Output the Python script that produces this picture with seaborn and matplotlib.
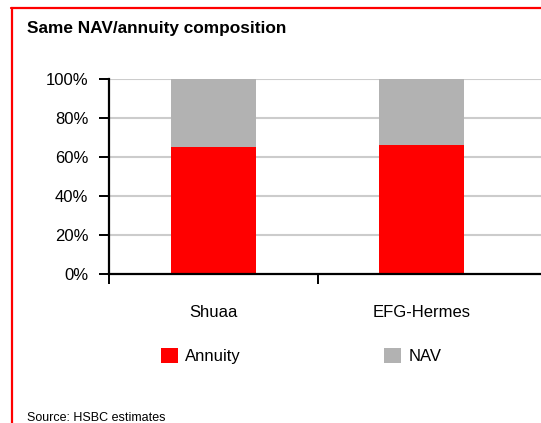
import numpy as np
import pandas as pd
import seaborn as sns
import matplotlib.pyplot as plt
from matplotlib.patches import Patch
from matplotlib.lines import Line2D

# Chart data (percent of value)
companies = ["Shuaa", "EFG-Hermes"]
annuity = [65, 66]
nav = [35, 34]
y_ticks = [0, 20, 40, 60, 80, 100]
y_tick_labels = ["0%", "20%", "40%", "60%", "80%", "100%"]

RED = "#FF0000"
GREY = "#B2B2B2"
W, H = 541, 423

sns.set_style("white")
plt.rcParams["font.family"] = ["Liberation Sans", "DejaVu Sans"]
plt.rcParams["text.color"] = "black"
plt.rcParams["xtick.color"] = "black"
plt.rcParams["ytick.color"] = "black"

df = pd.DataFrame({"company": companies, "annuity": annuity, "nav": nav})
df["total"] = df["annuity"] + df["nav"]

fig = plt.figure(figsize=(W / 100, H / 100), dpi=100)

# axes placed in pixel terms, running past the right edge like the original crop
cat_px = 208.5
left_px, right_px = 109, 560
ax = fig.add_axes([left_px / W, 1 - 274 / H, (right_px - left_px) / W, 195 / H])

bar_w = 85 / cat_px
sns.barplot(data=df, x="company", y="total", color=GREY, width=bar_w, saturation=1,
            linewidth=0, ax=ax, zorder=3)
sns.barplot(data=df, x="company", y="annuity", color=RED, width=bar_w, saturation=1,
            linewidth=0, ax=ax, zorder=3)

ax.set_xlim(-0.5, -0.5 + (right_px - left_px) / cat_px)
ax.set_ylim(0, 100)
ax.set_yticks(y_ticks)
ax.set_yticklabels(y_tick_labels)
ax.set_xlabel("")
ax.set_ylabel("")

for y in y_ticks[1:]:
    ax.axhline(y, color="#CCCCCC", lw=1.5, zorder=1)

for side in ["top", "right"]:
    ax.spines[side].set_visible(False)
for side in ["left", "bottom"]:
    ax.spines[side].set_color("black")
    ax.spines[side].set_linewidth(1.6)
    ax.spines[side].set_zorder(4)

ax.tick_params(axis="y", direction="out", length=7, width=1.4, color="black",
               labelsize=12, pad=8, left=True)
ax.tick_params(axis="x", which="major", length=0, labelsize=12, pad=22)
ax.set_xticks([-0.5, 0.5], minor=True)
ax.tick_params(axis="x", which="minor", direction="out", length=7, width=1.4,
               color="black", bottom=True)

# legend
handles = [Patch(facecolor=RED, edgecolor="none", label="Annuity"),
           Patch(facecolor=GREY, edgecolor="none", label="NAV")]
fig.legend(handles=handles, loc="center left", bbox_to_anchor=(161 / W, 1 - 356 / H),
           ncol=2, frameon=False, fontsize=12, handlelength=1.0, handleheight=1.0,
           handletextpad=0.45, columnspacing=8.6, borderpad=0, borderaxespad=0)

# title and source
fig.text(27 / W, 1 - 32.5 / H, "Same NAV/annuity composition", fontsize=12.4,
         fontweight="bold", ha="left", va="baseline")
fig.text(27 / W, 1 - 421 / H, "Source: HSBC estimates", fontsize=9,
         ha="left", va="baseline")

# red frame (top and left edges)
fig.add_artist(Line2D([11 / W, 1], [1 - 8.5 / H, 1 - 8.5 / H], transform=fig.transFigure,
                      color=RED, lw=1.6))
fig.add_artist(Line2D([12 / W, 12 / W], [1 - 8 / H, 0], transform=fig.transFigure,
                      color=RED, lw=1.6))

fig.savefig("out.png", dpi=100)
